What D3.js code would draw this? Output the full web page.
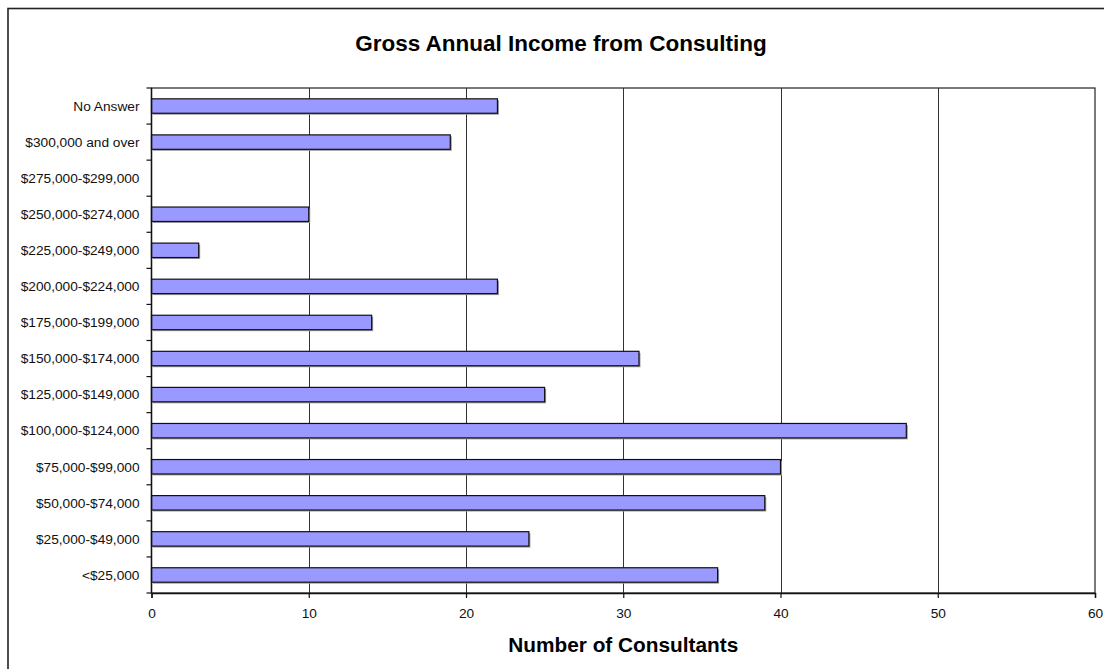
<!DOCTYPE html>
<html>
<head>
<meta charset="utf-8">
<script src="https://cdn.jsdelivr.net/npm/d3@7"></script>
<style>
  html, body { margin: 0; padding: 0; background: #fff; }
  svg { display: block; font-family: "Liberation Sans", Arial, sans-serif; }
</style>
</head>
<body>
<svg id="chart" width="1104" height="669"></svg>
<script>
// Income brackets, listed from top to bottom of the chart
const categories = [
  "No Answer",
  "$300,000 and over",
  "$275,000-$299,000",
  "$250,000-$274,000",
  "$225,000-$249,000",
  "$200,000-$224,000",
  "$175,000-$199,000",
  "$150,000-$174,000",
  "$125,000-$149,000",
  "$100,000-$124,000",
  "$75,000-$99,000",
  "$50,000-$74,000",
  "$25,000-$49,000",
  "<$25,000"
];
// Number of consultants in each bracket
const consultants = [22, 19, 0, 10, 3, 22, 14, 31, 25, 48, 40, 39, 24, 36];
const xTicks = [0, 10, 20, 30, 40, 50, 60];

const title = "Gross Annual Income from Consulting";
const xTitle = "Number of Consultants";

const svg = d3.select("#chart");
const plot = { left: 151.5, right: 1095, top: 88, bottom: 593 };

// Outer chart frame (only top and left edges fall inside the view)
svg.append("rect")
  .attr("x", 8).attr("y", 8.5)
  .attr("width", 1200).attr("height", 800)
  .attr("fill", "none").attr("stroke", "#222").attr("stroke-width", 1.6);

const x = d3.scaleLinear().domain([0, 60]).range([plot.left, plot.right]);
const y = d3.scaleBand().domain(categories)
  .range([plot.top, plot.bottom])
  .paddingInner(0.6).paddingOuter(0.3);

// Vertical gridlines
svg.append("g")
  .selectAll("line")
  .data(xTicks.filter(d => d > 0 && d < 60))
  .join("line")
  .attr("x1", d => Math.round(x(d)) + 0.5).attr("x2", d => Math.round(x(d)) + 0.5)
  .attr("y1", plot.top).attr("y2", plot.bottom)
  .attr("stroke", "#333").attr("stroke-width", 1);

// Bar shadows
const data = categories.map((c, i) => ({ c, v: consultants[i] })).filter(d => d.v > 0);
svg.append("g")
  .selectAll("rect")
  .data(data)
  .join("rect")
  .attr("x", x(0) + 1.5)
  .attr("y", d => y(d.c) + 1.5)
  .attr("width", d => x(d.v) - x(0))
  .attr("height", y.bandwidth())
  .attr("fill", "#9a9a9a");

// Bars
svg.append("g")
  .selectAll("rect")
  .data(data)
  .join("rect")
  .attr("x", x(0))
  .attr("y", d => y(d.c))
  .attr("width", d => x(d.v) - x(0))
  .attr("height", y.bandwidth())
  .attr("fill", "#9999ff")
  .attr("stroke", "#111").attr("stroke-width", 1.2);

// Plot area border
svg.append("rect")
  .attr("x", plot.left).attr("y", plot.top)
  .attr("width", plot.right - plot.left).attr("height", plot.bottom - plot.top)
  .attr("fill", "none").attr("stroke", "#222").attr("stroke-width", 1.2);

// X axis
const xAxis = svg.append("g")
  .attr("transform", `translate(0,${plot.bottom})`)
  .call(d3.axisBottom(x).tickValues(xTicks).tickSize(5).tickPadding(10));
xAxis.select(".domain").attr("stroke", "#111").attr("stroke-width", 1.4);
xAxis.selectAll(".tick line").attr("stroke", "#111").attr("stroke-width", 1.2);
xAxis.selectAll("text")
  .attr("font-size", "13.7px").attr("fill", "#111")
  .attr("font-family", "Liberation Sans, Arial, sans-serif");

// Y axis: category labels centred on bars, tick marks on band boundaries
const step = y.step();
const boundaries = d3.range(categories.length + 1).map(i => plot.top + i * (plot.bottom - plot.top) / categories.length);
svg.append("g")
  .selectAll("line")
  .data(boundaries)
  .join("line")
  .attr("x1", plot.left - 5).attr("x2", plot.left)
  .attr("y1", d => d).attr("y2", d => d)
  .attr("stroke", "#111").attr("stroke-width", 1.2);
svg.append("line")
  .attr("x1", plot.left).attr("x2", plot.left)
  .attr("y1", plot.top).attr("y2", plot.bottom)
  .attr("stroke", "#111").attr("stroke-width", 1.4);

svg.append("g")
  .selectAll("text")
  .data(categories)
  .join("text")
  .attr("x", plot.left - 12)
  .attr("y", d => y(d) + y.bandwidth() / 2)
  .attr("dy", "0.35em")
  .attr("text-anchor", "end")
  .attr("font-size", "13.7px")
  .attr("fill", "#111")
  .text(d => d);

// Titles
svg.append("text")
  .attr("x", 561).attr("y", 51)
  .attr("text-anchor", "middle")
  .attr("font-size", "22.5px").attr("font-weight", "bold")
  .attr("fill", "#000")
  .text(title);

svg.append("text")
  .attr("x", (plot.left + plot.right) / 2).attr("y", 652)
  .attr("text-anchor", "middle")
  .attr("font-size", "20.8px").attr("font-weight", "bold")
  .attr("fill", "#000")
  .text(xTitle);
</script>
</body>
</html>
